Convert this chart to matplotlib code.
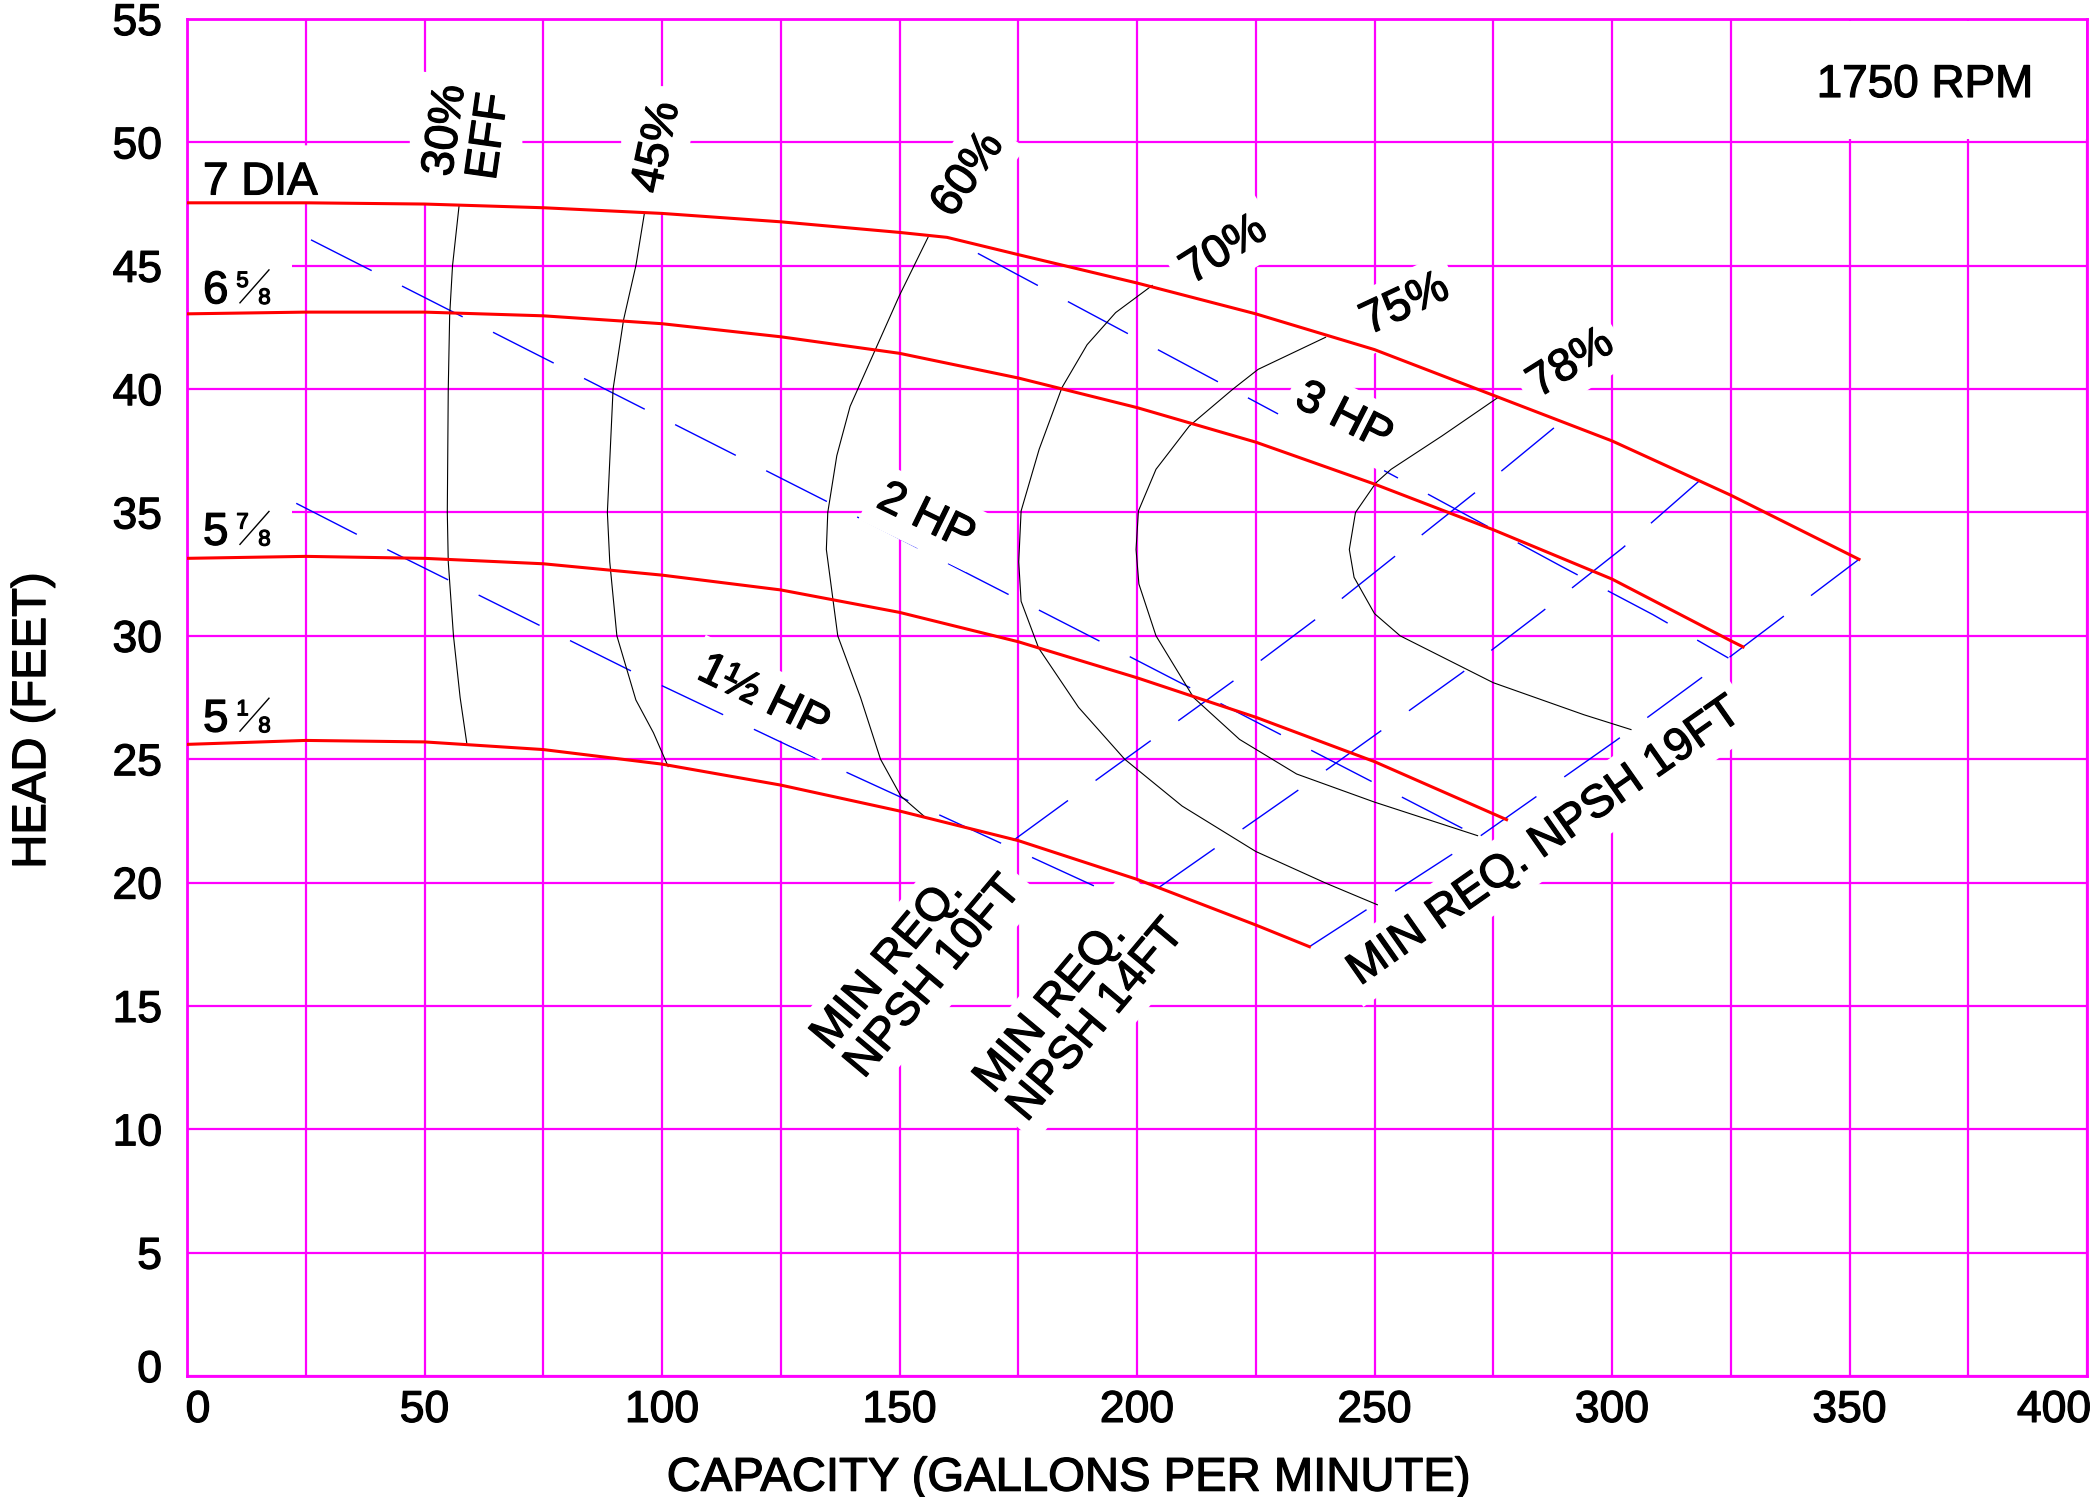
import numpy as np
import matplotlib
matplotlib.use("Agg")
import matplotlib.pyplot as plt
import matplotlib.transforms as mtransforms
import matplotlib.patheffects as pe
from matplotlib.patches import Rectangle

plt.rcParams["font.family"] = ["Liberation Sans", "DejaVu Sans"]

# head curves for each impeller diameter: capacity (gpm) vs head (ft)
dia7_q = [0, 25, 50, 75, 100, 125, 150, 160, 175, 200, 225, 250, 275, 300, 325, 352]
dia7_h = [47.55, 47.55, 47.5, 47.35, 47.12, 46.78, 46.35, 46.15, 45.45, 44.3, 43.05, 41.6, 39.75, 37.9, 35.7, 33.1]
dia658_q = [0, 25, 50, 75, 100, 125, 150, 175, 200, 225, 250, 275, 300, 325, 327.6]
dia658_h = [43.05, 43.12, 43.12, 42.97, 42.65, 42.12, 41.45, 40.45, 39.25, 37.85, 36.15, 34.3, 32.3, 29.8, 29.55]
dia578_q = [0, 25, 50, 75, 100, 125, 150, 175, 200, 225, 250, 277.8]
dia578_h = [33.14, 33.22, 33.14, 32.92, 32.46, 31.86, 30.95, 29.76, 28.3, 26.7, 24.9, 22.55]
dia518_q = [0, 25, 50, 75, 100, 125, 150, 175, 200, 225, 236.3]
dia518_h = [25.6, 25.76, 25.7, 25.39, 24.8, 23.95, 22.9, 21.7, 20.13, 18.28, 17.4]

# efficiency contours
eff30_q = [57.3, 55.9, 55.3, 55.0, 54.8, 55.0, 56.1, 57.5, 58.9]
eff30_h = [47.47, 45, 43, 40, 35, 33, 30, 27.5, 25.65]
eff45_q = [96.3, 94.5, 91.9, 89.7, 88.5, 89.0, 90.5, 94.5, 98.2, 101.3]
eff45_h = [47.13, 45, 42.8, 40, 35, 33, 30, 27.4, 26.07, 24.7]
eff60_q = [156, 150, 139.6, 136.8, 134.9, 134.6, 137, 141.8, 146, 150.3, 155.1]
eff60_h = [46.15, 43.8, 39.3, 37.3, 35.0, 33.5, 30.0, 27.5, 25.0, 23.5, 22.7]
eff70_q = [203.2, 195.5, 189.5, 184.2, 179.4, 175.6, 175.1, 175.6, 179.3, 187.7, 197.4, 209.5, 225, 239.7, 250.6]
eff70_h = [44.2, 43.1, 41.8, 40.06, 37.56, 35.06, 33.0, 31.4, 29.5, 27.1, 25.0, 23.1, 21.26, 19.98, 19.1]
eff75_q = [239.7, 225.5, 220.2, 211, 204, 200.3, 199.8, 200.4, 204, 211.9, 221.6, 233.6, 250, 271.7]
eff75_h = [42.1, 40.8, 40.0, 38.5, 36.75, 35.06, 33.5, 32.1, 30, 27.5, 25.8, 24.4, 23.26, 21.9]
eff78_q = [276, 264.2, 253.5, 250.3, 246, 244.7, 245.7, 250, 255.4, 275, 294.1, 304]
eff78_h = [39.66, 38.1, 36.75, 36.2, 35.0, 33.5, 32.37, 30.9, 30.0, 28.1, 26.8, 26.2]

# horsepower lines
hp15_q = [23, 36.9, 94.5, 126.6, 199.6]
hp15_h = [35.37, 34.0, 28.48, 25.55, 19.1]
hp2_q = [26.1, 79.5, 136.8, 194, 272]
hp2_h = [46.05, 40.83, 35.24, 29.6, 21.85]
hp3_q = [166.5, 176.2, 258.1, 289.5, 308.6, 324.5]
hp3_h = [45.5, 44.5, 36.07, 32.8, 30.86, 29.1]

# NPSH required lines
npsh10_q = [173.9, 186.5, 221, 238.3, 254.8, 271.8, 289.5]
npsh10_h = [21.7, 23.47, 28.27, 30.77, 33.3, 35.9, 38.7]
npsh14_q = [204.6, 233.6, 268.4, 285.4, 302.3, 318.5]
npsh14_h = [19.8, 23.7, 28.5, 31.0, 33.57, 36.3]
npsh19_q = [236.3, 272, 300.8, 324.5, 352]
npsh19_h = [17.4, 21.85, 25.75, 29.1, 33.1]

MAG = "#ff00ff"
bold = [pe.withStroke(linewidth=0.9, foreground="black")]

fig = plt.figure(figsize=(20.91, 14.97), dpi=100)
ax = fig.add_axes([187 / 2091, 1 - 1376 / 1497, 1900 / 2091, 1357 / 1497])
ax.set_xlim(0, 400)
ax.set_ylim(0, 55)
ax.set_autoscale_on(False)

ax.set_xticks(np.arange(0, 401, 50))
ax.set_xticks(np.arange(25, 400, 50), minor=True)
ax.set_yticks(np.arange(0, 56, 5))
ax.set_axisbelow(True)
ax.grid(which="both", color=MAG, lw=1.6)
ax.tick_params(which="both", length=0, labelsize=32)
ax.tick_params(axis="x", pad=10)
ax.tick_params(axis="y", pad=18)
for s in ax.spines.values():
    s.set_color(MAG)
    s.set_linewidth(2)

# nudge the end tick labels like the original sheet
xt = ax.xaxis.get_major_ticks()
yt = ax.yaxis.get_major_ticks()
for lab, dx, dy in [(xt[0].label1, 11, 0), (xt[-1].label1, -33, 0), (yt[0].label1, 0, 10)]:
    lab.set_transform(lab.get_transform() + mtransforms.ScaledTranslation(dx / 100, dy / 100, fig.dpi_scale_trans))
for lab in ax.get_xticklabels() + ax.get_yticklabels():
    lab.set_path_effects(bold)

ax.set_xlabel("CAPACITY (GALLONS PER MINUTE)", fontsize=34, va="baseline", path_effects=bold)
ax.xaxis.set_label_coords(0.464, -0.0845)
ax.set_ylabel("HEAD (FEET)", fontsize=34, va="center", path_effects=bold)
ax.yaxis.set_label_coords(-0.081, 0.483)

# white masks behind labels
def mask_under(q0, q1, top, qs, hs):
    xs = np.linspace(q0, q1, 40)
    ax.fill_between(xs, np.interp(xs, qs, hs), top, color="white", lw=0, zorder=1)

mask_under(0.3, 46.8, 49.9, dia7_q, dia7_h)
mask_under(46.8, 70.5, 52.77, dia7_q, dia7_h)
mask_under(91.3, 105.1, 52.3, dia7_q, dia7_h)
ax.add_patch(Rectangle((0.3, 43.3), 21.9, 3.5, color="white", lw=0, zorder=1))
ax.add_patch(Rectangle((0.3, 33.4), 21.9, 3.5, color="white", lw=0, zorder=1))
ax.add_patch(Rectangle((326, 50.12), 73.8, 4.8, color="white", lw=0, zorder=1))

dash = (0, (49, 24.5))
for q, h in [(hp15_q, hp15_h), (hp2_q, hp2_h), (hp3_q, hp3_h),
             (npsh10_q, npsh10_h), (npsh14_q, npsh14_h), (npsh19_q, npsh19_h)]:
    ax.plot(q, h, color="#0000ff", lw=1.0, ls=dash, zorder=2)

for q, h in [(eff30_q, eff30_h), (eff45_q, eff45_h), (eff60_q, eff60_h),
             (eff70_q, eff70_h), (eff75_q, eff75_h), (eff78_q, eff78_h)]:
    ax.plot(q, h, color="black", lw=0.8, zorder=2.2)

for q, h in [(dia7_q, dia7_h), (dia658_q, dia658_h), (dia578_q, dia578_h), (dia518_q, dia518_h)]:
    ax.plot(q, h, color="red", lw=2.2, zorder=4, solid_joinstyle="round")

box = dict(boxstyle="square,pad=0.2", fc="white", ec="none")

def label(x, y, s, rot, **kw):
    ax.text(x, y, s, fontsize=33, rotation=rot, rotation_mode="anchor",
            ha="center", va=kw.pop("va", "center_baseline"), bbox=box, zorder=3,
            path_effects=bold, **kw)

label(59.1, 50.36, "30%\nEFF", 82, va="center", linespacing=1.0)
label(98.0, 49.84, "45%", 78)
label(163.6, 48.8, "60%", 55)
label(217.8, 45.8, "70%", 32)
label(256.0, 43.6, "75%", 25)
label(290.8, 41.2, "78%", 32)
label(156.0, 34.97, "2 HP", -26)
label(244.0, 39.03, "3 HP", -27)
label(121.8, 27.68, "1\u00bd HP", -26)
label(153.7, 16.74, "MIN REQ.\nNPSH 10FT", 50, va="center", multialignment="left", linespacing=1.0)
label(188.0, 14.98, "MIN REQ.\nNPSH 14FT", 50, va="center", multialignment="left", linespacing=1.0)
label(285.3, 21.82, "MIN REQ. NPSH 19FT", 35)

ax.text(343.1, 51.84, "1750 RPM", fontsize=33, ha="left", va="baseline", zorder=3, path_effects=bold)
ax.text(3.37, 47.89, "7 DIA", fontsize=33, ha="left", va="baseline", zorder=3, path_effects=bold)

def mixed(x, y, whole, num, den):
    t = ax.transData
    ax.text(x, y, whole, fontsize=33, ha="left", va="baseline", zorder=3, path_effects=bold)
    ax.text(x, y, num, fontsize=16, ha="left", va="baseline", zorder=3, path_effects=bold,
            transform=mtransforms.offset_copy(t, fig, x=24, y=11.7, units="points"))
    ax.text(x, y, den, fontsize=16, ha="left", va="baseline", zorder=3, path_effects=bold,
            transform=mtransforms.offset_copy(t, fig, x=39.8, y=-0.5, units="points"))
    tr = mtransforms.Affine2D().scale(1 / 72) + fig.dpi_scale_trans + \
        mtransforms.ScaledTranslation(x, y, t)
    ax.plot([26.6, 47.5], [0.3, 24], color="black", lw=1.0, transform=tr, clip_on=False, zorder=3)

mixed(3.37, 43.48, "6", "5", "8")
mixed(3.37, 33.69, "5", "7", "8")
mixed(3.37, 26.12, "5", "1", "8")

fig.savefig("out.png", dpi=100)
